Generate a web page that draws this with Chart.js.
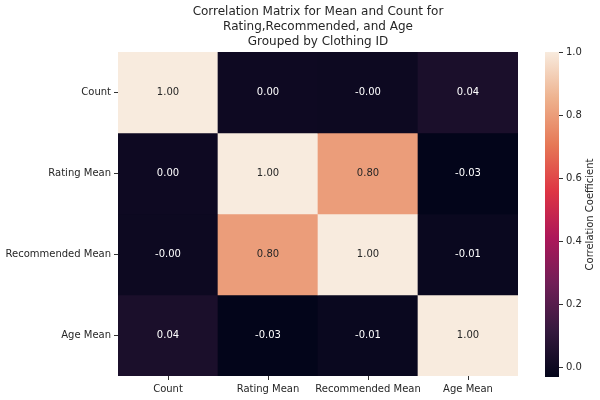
<!DOCTYPE html>
<html><head><meta charset="utf-8">
<script src="https://cdn.jsdelivr.net/npm/chart.js@4.4.1/dist/chart.umd.min.js"></script>
<style>
html,body{margin:0;padding:0;background:#fff;overflow:hidden;width:600px;height:400px}
#wrap{position:relative;width:600px;height:400px}
#main{position:absolute;left:0;top:0}
#cbar{position:absolute;left:520px;top:0}
</style></head><body>
<div id="wrap"><canvas id="main" width="600" height="400"></canvas><canvas id="cbar" width="80" height="400"></canvas></div>
<script>
// ---- data ----
const titleLines = ['Correlation Matrix for Mean and Count for', 'Rating,Recommended, and Age', 'Grouped by Clothing ID'];
const columns = ['Count', 'Rating Mean', 'Recommended Mean', 'Age Mean'];
const rows = ['Count', 'Rating Mean', 'Recommended Mean', 'Age Mean'];
const countRow = [1.00, 0.002, -0.002, 0.04];
const ratingRow = [0.002, 1.00, 0.80, -0.03];
const recommendedRow = [-0.002, 0.80, 1.00, -0.01];
const ageRow = [0.04, -0.03, -0.01, 1.00];
const colorbarTicks = [0.0, 0.2, 0.4, 0.6, 0.8, 1.0];
const colorbarLabel = 'Correlation Coefficient';

const matrix = [countRow, ratingRow, recommendedRow, ageRow];
const FONT = 'DejaVu Sans';
const TXT = '#262626';
const allVals = matrix.flat();
const vmin = Math.min(...allVals), vmax = Math.max(...allVals);

// seaborn "rocket"-like colormap (approximate stops)
const rocketStops = [
  [0, [3, 5, 26]], [1/7, [53, 25, 62]], [2/7, [112, 31, 87]], [3/7, [173, 23, 89]],
  [4/7, [222, 53, 68]], [5/7, [230, 120, 86]], [6/7, [238, 178, 142]], [1, [248, 235, 222]]
];
function cmapRGB(t) {
  t = Math.max(0, Math.min(1, t));
  for (let i = 1; i < rocketStops.length; i++) {
    const [p1, c1] = rocketStops[i], [p0, c0] = rocketStops[i - 1];
    if (t <= p1) {
      const f = (t - p0) / (p1 - p0);
      return c0.map((c, k) => Math.round(c + (c1[k] - c) * f));
    }
  }
  return rocketStops[rocketStops.length - 1][1];
}
const rgb = c => `rgb(${c[0]},${c[1]},${c[2]})`;
const norm = v => (v - vmin) / (vmax - vmin);
function lum(c) {
  const l = c.map(x => { x /= 255; return x <= 0.03928 ? x / 12.92 : Math.pow((x + 0.055) / 1.055, 2.4); });
  return 0.2126 * l[0] + 0.7152 * l[1] + 0.0722 * l[2];
}

const cellLabels = {
  id: 'cellLabels',
  afterDatasetsDraw(chart) {
    const ctx = chart.ctx;
    ctx.save();
    ctx.font = `10px "${FONT}"`;
    ctx.textAlign = 'center';
    ctx.textBaseline = 'middle';
    chart.data.datasets.forEach((ds, di) => {
      const meta = chart.getDatasetMeta(di);
      meta.data.forEach((el, i) => {
        const v = ds.values[i];
        const c = cmapRGB(norm(v));
        ctx.fillStyle = lum(c) > 0.35 ? TXT : '#ffffff';
        ctx.fillText(v.toFixed(2), el.x, (el.y + el.base) / 2);
      });
    });
    ctx.restore();
  }
};

const tickGrid = { display: true, drawOnChartArea: false, drawTicks: true, tickLength: 4, color: '#333333', lineWidth: 1, offset: false };

new Chart(document.getElementById('main'), {
  type: 'bar',
  data: {
    labels: columns,
    datasets: matrix.map((vals, r) => ({
      label: rows[r],
      data: vals.map(() => 1),
      values: vals,
      backgroundColor: vals.map(v => rgb(cmapRGB(norm(v)))),
      borderWidth: 0,
      barPercentage: 1,
      categoryPercentage: 1,
      stack: 's'
    }))
  },
  options: {
    responsive: false, animation: false, devicePixelRatio: 1,
    layout: { padding: { left: 0, right: 82, top: 0, bottom: 0 } },
    plugins: {
      legend: { display: false }, tooltip: { enabled: false },
      title: {
        display: true, fullSize: false, text: titleLines, color: TXT,
        font: { family: FONT, size: 12, weight: 'normal', lineHeight: 1.25 },
        padding: { top: 4, bottom: 3 }
      }
    },
    scales: {
      x: {
        stacked: true, offset: true,
        grid: tickGrid, border: { display: false },
        ticks: { font: { family: FONT, size: 10 }, color: TXT, padding: 3, maxRotation: 0, autoSkip: false },
        afterFit(s) { s.height = 24; }
      },
      y: {
        stacked: true, reverse: true, min: 0, max: rows.length,
        grid: tickGrid, border: { display: false },
        ticks: { font: { family: FONT, size: 10 }, color: TXT, padding: 3, callback: (v, i) => rows[i] },
        afterBuildTicks(s) { s.ticks = rows.map((_, i) => ({ value: i + 0.5 })); },
        afterFit(s) { s.width = 118; }
      }
    }
  },
  plugins: [cellLabels]
});

const cbTitle = {
  id: 'cbTitle',
  afterDraw(chart) {
    const ctx = chart.ctx, a = chart.chartArea;
    ctx.save();
    ctx.font = `10px "${FONT}"`;
    ctx.fillStyle = TXT;
    ctx.textAlign = 'center';
    ctx.textBaseline = 'middle';
    ctx.translate(70, (a.top + a.bottom) / 2);
    ctx.rotate(-Math.PI / 2);
    ctx.fillText(colorbarLabel, 0, 0);
    ctx.restore();
  }
};

new Chart(document.getElementById('cbar'), {
  type: 'bar',
  data: {
    labels: [''],
    datasets: [{
      data: [[vmin, vmax]],
      borderWidth: 0, barPercentage: 1, categoryPercentage: 1,
      backgroundColor(context) {
        const ch = context.chart, y = ch.scales.y;
        if (!ch.chartArea || !y) return rgb(cmapRGB(0.5));
        const g = ch.ctx.createLinearGradient(0, y.getPixelForValue(vmin), 0, y.getPixelForValue(vmax));
        rocketStops.forEach(([p, c]) => g.addColorStop(p, rgb(c)));
        return g;
      }
    }]
  },
  options: {
    responsive: false, animation: false, devicePixelRatio: 1,
    layout: { padding: { left: 25, right: 0, top: 52, bottom: 23 } },
    plugins: { legend: { display: false }, tooltip: { enabled: false } },
    scales: {
      x: { display: false },
      y: {
        position: 'right', min: vmin, max: vmax,
        grid: { display: true, drawOnChartArea: false, drawTicks: true, tickLength: 4, color: '#333333' },
        border: { display: false },
        ticks: { font: { family: FONT, size: 10 }, color: TXT, padding: 3, callback: v => v.toFixed(1) },
        afterBuildTicks(s) { s.ticks = colorbarTicks.map(v => ({ value: v })); },
        afterFit(s) { s.width = 41; }
      }
    }
  },
  plugins: [cbTitle]
});
</script>
</body></html>
